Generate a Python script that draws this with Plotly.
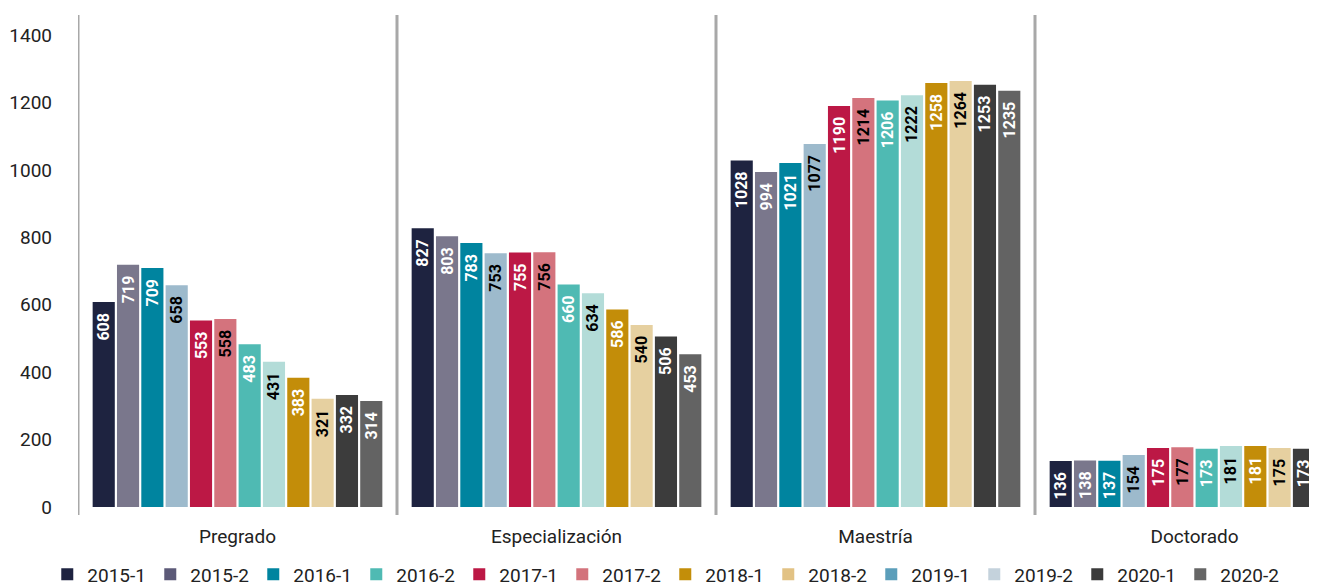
import plotly.graph_objects as go

categories = ["Pregrado", "Especialización", "Maestría", "Doctorado"]
semesters = ["2015-1", "2015-2", "2016-1", "2016-2", "2017-1", "2017-2",
             "2018-1", "2018-2", "2019-1", "2019-2", "2020-1", "2020-2"]

# values per category, in semester order
pregrado = [608, 719, 709, 658, 553, 558, 483, 431, 383, 321, 332, 314]
especializacion = [827, 803, 783, 753, 755, 756, 660, 634, 586, 540, 506, 453]
maestria = [1028, 994, 1021, 1077, 1190, 1214, 1206, 1222, 1258, 1264, 1253, 1235]
doctorado = [136, 138, 137, 154, 175, 177, 173, 181, 181, 175, 173, 174]

y_ticks = [0, 200, 400, 600, 800, 1000, 1200, 1400]

bar_colors = ["#1e2340", "#7a778c", "#00849f", "#9dbacc", "#bc1845", "#d4737d",
              "#4fbab3", "#b3dcd8", "#c38d09", "#e6d0a0", "#3c3c3c", "#636363"]
text_colors = ["white", "white", "white", "black", "white", "black",
               "white", "black", "white", "black", "white", "white"]
legend_colors = ["#1e2340", "#5c5a78", "#00849f", "#4fbab3", "#bc1845", "#d3737c",
                 "#c38e09", "#e2c284", "#5b9eba", "#c4d2dc", "#3b3b3b", "#666666"]

FONT = "Roboto, 'Noto Sans', sans-serif"

fig = go.Figure()
series = [pregrado, especializacion, maestria, doctorado]
for i, sem in enumerate(semesters):
    vals = [s[i] for s in series]
    fig.add_trace(go.Bar(
        x=categories, y=vals, name=sem, showlegend=False,
        marker=dict(color=bar_colors[i], line=dict(width=0)),
        text=[f"{v}\u00a0\u00a0" for v in vals],
        textposition="inside", insidetextanchor="end", textangle=-90,
        constraintext="none",
        textfont=dict(family=FONT, size=16, color=text_colors[i], weight="bold"),
        cliponaxis=True,
    ))

for i, sem in enumerate(semesters):
    fig.add_trace(go.Scatter(
        x=[None], y=[None], mode="markers", name=sem,
        marker=dict(symbol="square", size=13, color=legend_colors[i]),
    ))

for xv in [-0.5, 0.5, 1.5, 2.5]:
    fig.add_shape(type="line", xref="x", yref="paper", x0=xv, x1=xv, y0=0, y1=1,
                  line=dict(color="#a8a8a8", width=3), layer="below")

# page body has an 8px margin, so the figure is sized/positioned to compensate
fig.update_layout(
    width=1309, height=578,
    margin=dict(l=70, r=0, t=7, b=71, autoexpand=False),
    paper_bgcolor="white", plot_bgcolor="white",
    barmode="group", bargap=0.085, bargroupgap=0.09,
    font=dict(family=FONT, color="#222222"),
    showlegend=True,
    legend=dict(orientation="h", xref="container", yref="container",
                x=0.03, xanchor="left", y=0.02, yanchor="middle",
                entrywidth=58, entrywidthmode="pixels",
                font=dict(family=FONT, size=19, color="#222222"),
                itemsizing="constant", tracegroupgap=0),
    xaxis=dict(range=[-0.5, 3.384], showgrid=False, zeroline=False, showline=False,
               ticks="", ticklabelstandoff=8,
               tickfont=dict(family=FONT, size=19, color="#222222")),
    yaxis=dict(range=[-24, 1460], tickvals=y_ticks, showgrid=False, zeroline=False,
               showline=False, ticks="", ticklabelstandoff=25,
               tickfont=dict(family=FONT, size=19, color="#222222")),
)

fig.write_html("out.html")
